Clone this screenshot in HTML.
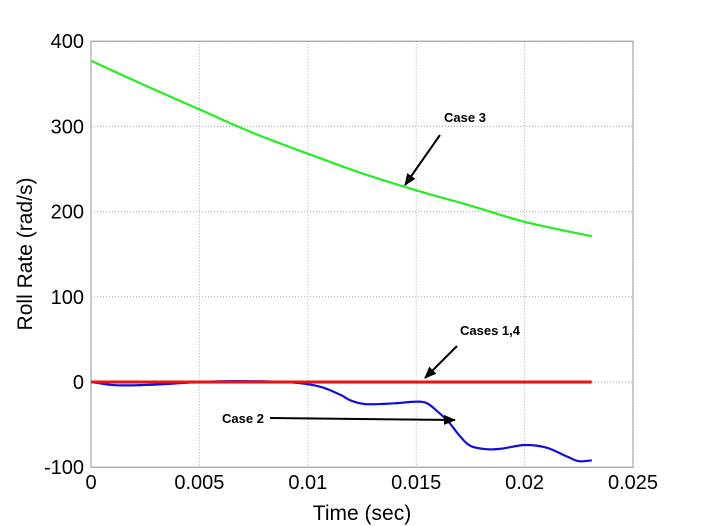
<!DOCTYPE html>
<html><head><style>
body{margin:0;background:#fff;font-family:"Liberation Sans",sans-serif}
svg{display:block}
</style></head><body>
<svg id="c" width="701" height="526" xmlns="http://www.w3.org/2000/svg">
<defs><marker id="ah" markerUnits="userSpaceOnUse" markerWidth="12" markerHeight="10" refX="11" refY="5" orient="auto"><path d="M0,0 L12,5 L0,10 z" fill="#000"/></marker></defs>
<g id="grid"></g><g id="ticks"></g><g id="series"></g>
<text x="362" y="520" font-size="21" text-anchor="middle">Time (sec)</text>
<text transform="translate(32,254) rotate(-90)" font-size="21" text-anchor="middle">Roll Rate (rad/s)</text>
<g font-size="13" font-weight="bold">
<text x="444" y="122">Case 3</text>
<line x1="440" y1="135" x2="405" y2="185" stroke="#000" stroke-width="2" marker-end="url(#ah)"/>
<text x="460" y="335">Cases 1,4</text>
<line x1="457" y1="346" x2="425" y2="378" stroke="#000" stroke-width="2" marker-end="url(#ah)"/>
<text x="222" y="423">Case 2</text>
<line x1="270" y1="418" x2="455" y2="420" stroke="#000" stroke-width="2" marker-end="url(#ah)"/>
</g>
</svg>
<script>
const xTicks=[0,0.005,0.01,0.015,0.02,0.025];
const xTickLabels=["0","0.005","0.01","0.015","0.02","0.025"];
const yTicks=[-100,0,100,200,300,400];
const yTickLabels=["-100","0","100","200","300","400"];
const case3T=[0,0.0025,0.005,0.0075,0.01,0.0125,0.015,0.0175,0.02,0.0231];
const case3V=[377,348,320,292,268,245,225,207,188,171];
const case2T=[0,0.0008,0.0015,0.003,0.005,0.0065,0.009,0.0105,0.0115,0.012,0.0127,0.014,0.015,0.0155,0.016,0.0165,0.017,0.0175,0.0183,0.019,0.02,0.021,0.022,0.0225,0.0231];
const case2V=[0,-3,-4,-3,0,1,0,-5,-15,-22,-26,-25,-23,-25,-35,-47,-63,-75,-79,-78,-74,-77,-88,-93,-92];
const case14T=[0,0.0231];
const case14V=[0,0];
const X=v=>91+v/0.025*542, Y=v=>382-v*0.852;
const NS="http://www.w3.org/2000/svg";
function mk(p,t,a){const e=document.createElementNS(NS,t);for(const k in a)e.setAttribute(k,a[k]);p.appendChild(e);return e;}
const g=document.getElementById('grid'),tk=document.getElementById('ticks'),s=document.getElementById('series');
const fr=mk(g,'rect',{x:X(0),y:Y(400),width:X(0.025)-X(0),height:Y(-100)-Y(400),fill:'none',stroke:'#888','stroke-width':1});


xTicks.forEach((v,i)=>{
 const l=mk(g,'line',{x1:X(v),x2:X(v),y1:Y(400),y2:Y(-100),stroke:'#aaa','stroke-dasharray':'1,2'});
 
 
 const t=mk(tk,'text',{x:X(v),y:Y(-100)+22,'font-size':20,'text-anchor':'middle'});t.textContent=xTickLabels[i];
 
 
});
yTicks.forEach((v,i)=>{
 const l=mk(g,'line',{x1:X(0),x2:X(0.025),y1:Y(v),y2:Y(v),stroke:'#aaa','stroke-dasharray':'1,2'});
 
 
 const t=mk(tk,'text',{x:X(0)-7,y:Y(v)+7,'font-size':20,'text-anchor':'end'});t.textContent=yTickLabels[i];
 
 
});
function line(T,V,c,n,w){
 const P=T.map((t,i)=>[X(t),Y(V[i])]);
 let d='M'+P[0][0].toFixed(1)+','+P[0][1].toFixed(1);
 for(let i=0;i<P.length-1;i++){
  const p0=P[i-1]||P[i],p1=P[i],p2=P[i+1],p3=P[i+2]||p2;
  const c1=[p1[0]+(p2[0]-p0[0])/6,p1[1]+(p2[1]-p0[1])/6],c2=[p2[0]-(p3[0]-p1[0])/6,p2[1]-(p3[1]-p1[1])/6];
  d+=' C'+c1.map(v=>v.toFixed(1))+' '+c2.map(v=>v.toFixed(1))+' '+p2.map(v=>v.toFixed(1));
 }
 const p=mk(s,'path',{d:d,fill:'none',stroke:c,'stroke-width':w,'stroke-linejoin':'round'});
 
 
}
line(case3T,case3V,'#22ee22','case3-line',2.2);
line(case2T,case2V,'#1010dd','case2-line',2.2);
line(case14T,case14V,'#ee1111','cases14-line',3);
</script>
</body></html>
